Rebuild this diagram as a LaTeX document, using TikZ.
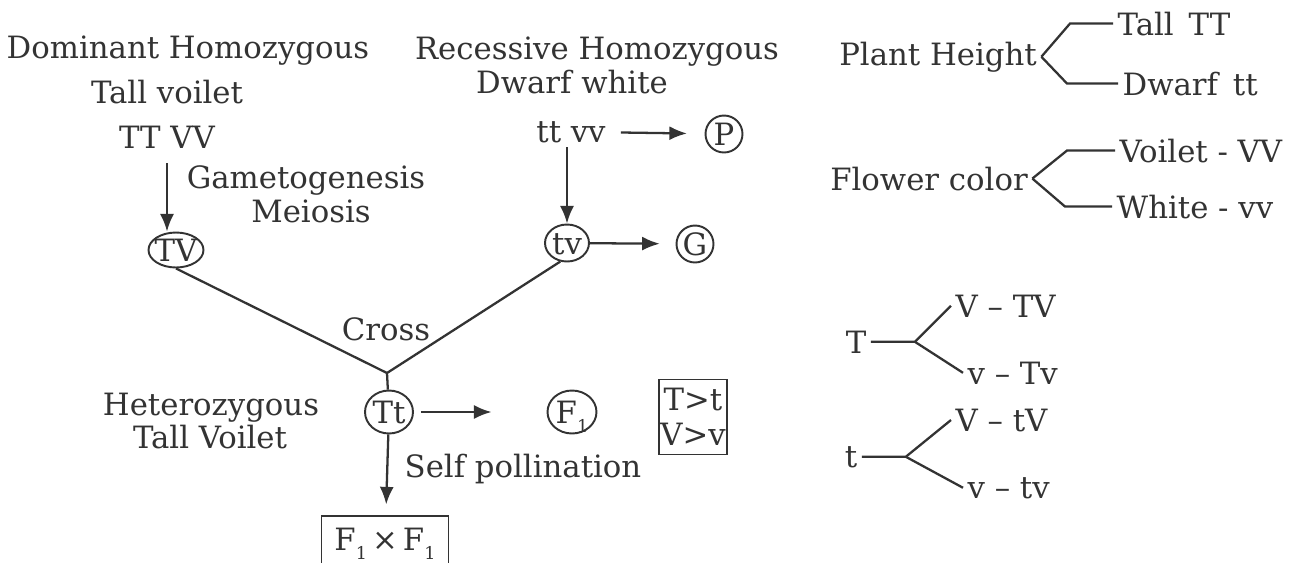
\documentclass[tikz,border=0pt]{standalone}
\usepackage{fontspec}
\setmainfont{DejaVu Serif}
\usepackage{tikz}
\usetikzlibrary{arrows.meta, shapes, positioning}
\tikzset{>={Latex[length=10pt,width=8pt]}}
\definecolor{mygray}{RGB}{51, 51, 51}
\newcommand{\inring}[1]{\makebox[0pt]{\raisebox{-0.36em}[0pt][0pt]{#1}}}
\newcommand{\lowone}{\raisebox{-0.3em}{\fontsize{10}{10}\selectfont 1}}

\begin{document}
\begin{tikzpicture}[x=0.02cm, y=-0.02cm, line width=1.3pt, color=mygray,
  font=\fontsize{17.5}{20}\selectfont,
  txt/.style={inner sep=2pt},
  ring/.style={draw, ellipse, line width=1.1pt, inner sep=0pt}]
\useasboundingbox (0,0) rectangle (1289,562);
\clip (0,0) rectangle (1289,562);
% dominant parent
\node[txt, anchor=base] (dom) at (188,58) {Dominant Homozygous};
\node[txt, anchor=base] (tallv) at (167,103) {Tall voilet};
\node[txt, anchor=base] (TTVV) at (167,148) {TT VV};
\node[txt, anchor=base] (gam) at (306,188) {Gametogenesis};
\node[txt, anchor=base] (mei) at (311,222) {Meiosis};
\node[ring, minimum width=1.1cm, minimum height=0.7cm] (TV) at (176,250) {\inring{TV}};
% recessive parent
\node[txt, anchor=base] (rec) at (597,59) {Recessive Homozygous};
\node[txt, anchor=base] (dw) at (572,93) {Dwarf white};
\node[txt, anchor=base] (ttvv) at (571,142) {tt vv};
\node[ring, minimum size=0.74cm] (P) at (724,134) {\inring{P}};
\node[ring, minimum width=0.88cm, minimum height=0.74cm] (tv) at (567,243) {\inring{tv}};
\node[ring, minimum size=0.74cm] (G) at (695,244) {\inring{G}};
% cross and F1
\node[txt, anchor=base] (cross) at (386,340) {Cross};
\coordinate (jn) at (387,373);
\node[ring, minimum width=0.96cm, minimum height=0.86cm] (Tt) at (389,412) {\inring{Tt}};
\node[txt, anchor=base] (het) at (211,415) {Heterozygous};
\node[txt, anchor=base] (tallV) at (210,448) {Tall Voilet};
\node[ring, minimum width=0.98cm, minimum height=0.86cm] (F1) at (572,412) {\inring{F\lowone}};
\node[txt, anchor=base] (self) at (523,477) {Self pollination};
\node[draw, line width=1.1pt, align=center, inner sep=1pt, minimum width=1.3cm, minimum height=1.5cm] (domin) at (693,417) {T>t\\V>v};
\node[draw, line width=1.1pt, minimum width=2.54cm, minimum height=1.1cm, anchor=north] (FF) at (385,515) {F\lowone\,×\,F\lowone};

\draw[->, shorten <=6pt] (TTVV) -- (TTVV |- TV.north);
\draw[->] (tv |- ttvv.south) -- (tv.north);
\draw[->, shorten <=6pt, shorten >=10pt] (ttvv) -- (P);
\draw[->, shorten >=9pt] (tv) -- (G);
\draw (TV.south) -- (jn) -- (tv.-110);
\draw (jn) -- (Tt);
\draw[->, shorten <=4pt, shorten >=1.1cm] (Tt) -- (F1);
\draw[->, shorten >=6pt] (Tt) -- (FF);

% characters
\node[txt, anchor=base] (ph) at (938,65) {Plant Height};
\node[txt, anchor=base west] (tall) at (1113,35) {Tall\ \,TT};
\node[txt, anchor=base west] (dwarf) at (1118,95) {Dwarf\ \,tt};
\draw (tall.west) -- ++(-43,0) -- (ph.east);
\draw (dwarf.west) -- ++(-51,0) -- (ph.east);
\node[txt, anchor=base] (fc) at (929,190) {Flower color};
\node[txt, anchor=base west] (voi) at (1115,162) {Voilet -\ VV};
\node[txt, anchor=base west] (whi) at (1112,218) {White - vv};
\draw (voi.west) -- ++(-48,0) -- (fc.east);
\draw (whi.west) -- ++(-47,0) -- (fc.east);

% gametes of F1
\foreach \a/\xx/\yy in {T/856/353, t/851/467}{
\node[txt, anchor=base] (g\a) at (\xx,\yy) {\a};
\node[txt, anchor=base west] (up\a) at (951,\yy-36) {V -- \a V};
\node[txt, anchor=base west] (lo\a) at (963,\yy+31) {v -- \a v};
\draw (g\a.east) -- ++(44,0) coordinate (f\a) -- (up\a.west);
\draw (f\a) -- (lo\a.west);
}
\end{tikzpicture}
\end{document}
